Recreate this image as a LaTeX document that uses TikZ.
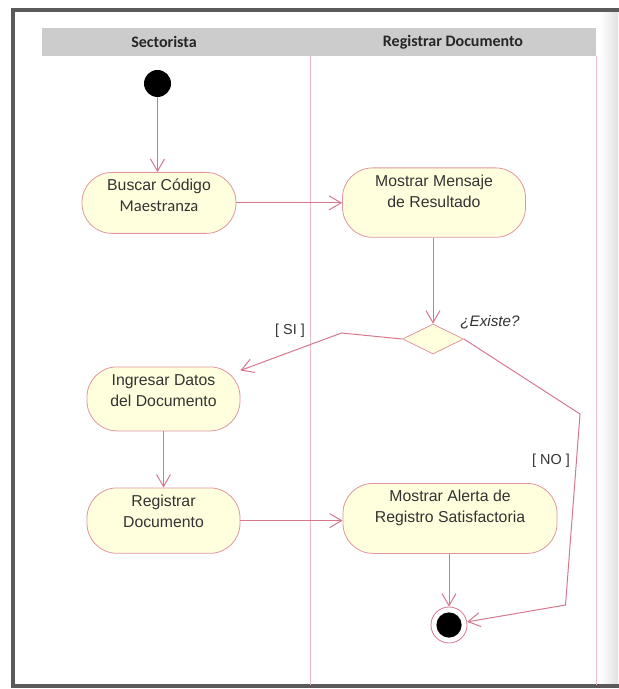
\documentclass[tikz,border=0pt]{standalone}
\usepackage{fontspec}
\setmainfont{Liberation Sans}
\newfontfamily\calibrifont{Carlito}
\usepackage{xcolor}
\usepackage{tikz}
\usetikzlibrary{arrows.meta,positioning,shapes.geometric}
\definecolor{flowpink}{RGB}{214,120,140}
\definecolor{actborder}{RGB}{224,150,160}
\definecolor{actfill}{RGB}{255,255,222}
\definecolor{lanepink}{RGB}{236,186,196}
\definecolor{hdrgray}{RGB}{204,204,204}
\definecolor{framegray}{RGB}{90,90,90}

\begin{document}
\begin{tikzpicture}[x=0.5pt, y=-0.5pt,
  act/.style={draw=actborder, fill=actfill, rounded corners=15pt, align=center, anchor=north,
              font=\fontsize{7.9pt}{10.5pt}\selectfont, text=black!80,
              inner ysep=3.5pt, text height=16.2pt, text depth=8.8pt},
  lanehdr/.style={font=\calibrifont\bfseries\fontsize{8pt}{9pt}\selectfont, text=black!85},
  guard/.style={font=\fontsize{7.2pt}{8pt}\selectfont, text=black!80},
  initial/.style={circle, fill=black, minimum size=13.5pt, inner sep=0pt},
  final/.style={circle, draw=flowpink, fill=white, minimum size=18pt, inner sep=0pt,
                path picture={\fill[black] (path picture bounding box.center) circle (6.3pt);}},
  decision/.style={diamond, draw=actborder, fill=actfill, minimum width=30.5pt,
                   minimum height=15pt, inner sep=0pt},
  flow/.style={draw=flowpink, line width=0.5pt, -{Straight Barb[length=6pt,width=7pt]}},
]
  \useasboundingbox (0,0) rectangle (618,689);

  % ---- Frame ----
  \shade[left color=white, right color=black!12] (600,12) rectangle (618,685);
  \draw[framegray, line width=2pt] (620,10) -- (13,10) -- (13,686) -- (620,686);

  % ---- Lanes ----
  \fill[hdrgray] (42,28) rectangle (596,56);
  \draw[lanepink] (310,56) -- (310,685);
  \draw[lanepink] (596,56) -- (596,685);
  \node[lanehdr] (hsect) at (164,42) {Sectorista};
  \node[lanehdr] (hreg) at (453,42) {Registrar Documento};

  % ---- Activities ----
  \node[initial] (ini) at (157.5,83.5) {};
  \node[act, minimum width=77pt, text depth=7.3pt] (buscar) at (159,172)
       {Buscar Código\\{\calibrifont\fontsize{8.3pt}{10.5pt}\selectfont Maestranza}};
  \node[act, minimum width=91.5pt, text depth=11.5pt] (mensaje) at (434,167.5)
       {Mostrar Mensaje\\de Resultado};
  \node[decision] (decide) at (433,339) {};
  \node[guard, font=\fontsize{7.6pt}{8pt}\selectfont\itshape] (gexiste) at (490,322) {¿Existe?};
  \node[act, minimum width=76.5pt] (ingresar) at (163.5,366.5) {Ingresar Datos\\del Documento};
  \node[act, minimum width=76.5pt, text depth=9.5pt] (registrar) at (163.5,487.5)
       {Registrar\\Documento};
  \node[act, minimum width=107pt, text depth=11.8pt] (alerta) at (450,483)
       {Mostrar Alerta de\\Registro Satisfactoria};
  \node[final] (fin) at (449,625) {};
  \node[guard] (gsi) at (290,331) {[ SI ]};
  \node[guard] (gno) at (551,461) {[ NO ]};

  % ---- Bends ----
  \coordinate (sibend) at (341.5,333);
  \coordinate (nobend1) at (580,414);
  \coordinate (nobend2) at (565.5,605);

  % ---- Arrows ----
  \draw[flow] (ini) -- (ini |- buscar.north);
  \draw[flow] (buscar.east) -- (buscar.east -| mensaje.west);
  \draw[flow] (decide.north |- mensaje.south) -- (decide.north);
  \draw[flow] (decide.west) -- (sibend) -- (ingresar);
  \draw[flow] (ingresar) -- (registrar);
  \draw[flow] (registrar.east) -- (registrar.east -| alerta.west);
  \draw[flow] (alerta.south -| fin) -- (fin);
  \draw[flow] (decide.east) -- (nobend1) -- (nobend2) -- (fin);
\end{tikzpicture}
\end{document}
